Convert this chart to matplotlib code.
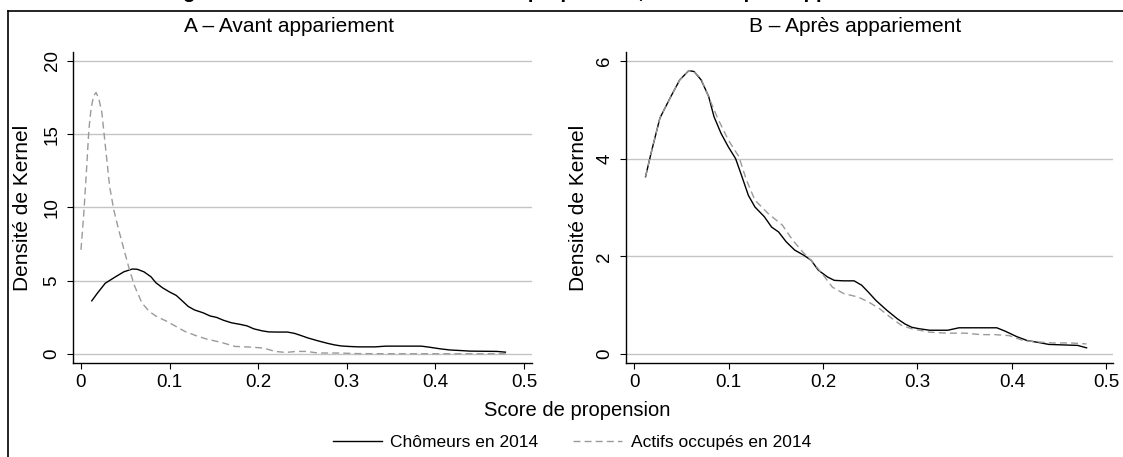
import matplotlib
matplotlib.use("Agg")
import matplotlib.pyplot as plt
from matplotlib.lines import Line2D

plt.rcParams['font.family'] = ['Liberation Sans', 'DejaVu Sans']

# Chômeurs en 2014 (same in both panels)
x_chom = [0.0122, 0.018, 0.0274, 0.039, 0.0484, 0.058, 0.0636, 0.071, 0.079, 0.0846,
          0.092, 0.0998, 0.1075, 0.113, 0.121, 0.128, 0.138, 0.1456, 0.153, 0.161,
          0.170, 0.180, 0.1875, 0.195, 0.2047, 0.212, 0.222, 0.233, 0.241, 0.248,
          0.256, 0.2675, 0.279, 0.2866, 0.294, 0.302, 0.313, 0.332, 0.344, 0.359,
          0.384, 0.393, 0.405, 0.416, 0.431, 0.439, 0.454, 0.4695, 0.479]
y_chom = [3.63, 4.11, 4.83, 5.27, 5.61, 5.80, 5.78, 5.61, 5.27, 4.86,
          4.52, 4.24, 4.00, 3.70, 3.25, 3.01, 2.81, 2.60, 2.50, 2.30,
          2.13, 2.02, 1.92, 1.72, 1.58, 1.51, 1.50, 1.50, 1.41, 1.27,
          1.10, 0.90, 0.72, 0.62, 0.55, 0.52, 0.49, 0.49, 0.54, 0.54,
          0.54, 0.47, 0.36, 0.28, 0.23, 0.20, 0.19, 0.18, 0.13]

# Actifs occupés en 2014, avant appariement
x_act_avant = [0.0, 0.0032, 0.006, 0.0089, 0.0113, 0.0142, 0.017, 0.020, 0.0235, 0.0275,
               0.0324, 0.037, 0.0425, 0.0486, 0.0547, 0.0607, 0.0688, 0.077, 0.085, 0.097,
               0.107, 0.117, 0.13, 0.142, 0.158, 0.174, 0.19, 0.206, 0.219, 0.231,
               0.243, 0.255, 0.267, 0.291, 0.312, 0.352, 0.393, 0.433, 0.482]
y_act_avant = [7.11, 9.6, 12.3, 15.3, 16.7, 17.6, 17.84, 17.45, 16.5, 14.2,
               11.4, 9.84, 8.48, 7.11, 5.75, 4.61, 3.48, 2.91, 2.57, 2.23,
               1.89, 1.55, 1.25, 1.02, 0.80, 0.52, 0.48, 0.41, 0.18, 0.11,
               0.18, 0.18, 0.07, 0.07, 0.03, 0.02, 0.02, 0.02, 0.02]

# Actifs occupés en 2014, après appariement
x_act_apres = [0.0122, 0.018, 0.0274, 0.039, 0.0484, 0.058, 0.0636, 0.071, 0.081, 0.0884,
               0.0998, 0.111, 0.119, 0.128, 0.1418, 0.157, 0.168, 0.18, 0.1875, 0.199,
               0.210, 0.222, 0.237, 0.248, 0.26, 0.271, 0.283, 0.294, 0.313, 0.332,
               0.351, 0.367, 0.382, 0.397, 0.412, 0.428, 0.443, 0.462, 0.479]
y_act_apres = [3.63, 4.11, 4.83, 5.27, 5.61, 5.80, 5.78, 5.63, 5.17, 4.83,
               4.38, 4.04, 3.56, 3.15, 2.88, 2.64, 2.33, 2.06, 1.92, 1.65,
               1.37, 1.24, 1.17, 1.07, 0.93, 0.76, 0.59, 0.52, 0.45, 0.43,
               0.43, 0.40, 0.40, 0.38, 0.28, 0.25, 0.23, 0.23, 0.21]

xticks = [0, 0.1, 0.2, 0.3, 0.4, 0.5]
xtick_labels = ['0', '0.1', '0.2', '0.3', '0.4', '0.5']
yticks_a = [0, 5, 10, 15, 20]
yticks_b = [0, 2, 4, 6]

title_main = "Figure 1 – Distribution des scores de propension, avant et après appariement"
title_a = "A – Avant appariement"
title_b = "B – Après appariement"
xlabel = "Score de propension"
ylabel = "Densité de Kernel"
legend_labels = ["Chômeurs en 2014", "Actifs occupés en 2014"]

W, H = 1123, 457
fig = plt.figure(figsize=(W / 100, H / 100), dpi=100)
fig.patch.set_facecolor('white')

def px_axes(x0, y0, x1, y1):
    return fig.add_axes([x0 / W, 1 - y1 / H, (x1 - x0) / W, (y1 - y0) / H])

boxes = {'A': (73, 532), 'B': (626, 1113)}
axA = px_axes(73, 52, 532, 363)
axB = px_axes(626, 52, 1113, 363)

solid_kw = dict(color='black', lw=1.0, solid_joinstyle='round')
dash_kw = dict(color='#9a9a9a', lw=1.0, linestyle=(0, (5, 3)))

axA.plot(x_chom, y_chom, **solid_kw)
axA.plot(x_act_avant, y_act_avant, **dash_kw)
axB.plot(x_chom, y_chom, **solid_kw)
axB.plot(x_act_apres, y_act_apres, **dash_kw)

axA.set_xlim(-0.009, 0.509)
axA.set_ylim(-0.61, 20.6)
axB.set_xlim(-0.0085, 0.507)
axB.set_ylim(-0.18, 6.18)

for key, ax, yt, yl_x in (('A', axA, yticks_a, 23), ('B', axB, yticks_b, 579)):
    x0, x1 = boxes[key]
    ax.set_xticks(xticks)
    ax.set_xticklabels(xtick_labels)
    ax.set_yticks(yt)
    ax.set_yticklabels([str(v) for v in yt], rotation=90, va='center')
    ax.grid(axis='y', color='#c4c4c4', lw=1.0)
    ax.grid(axis='x', visible=False)
    ax.set_axisbelow(True)
    for s in ('top', 'right'):
        ax.spines[s].set_visible(False)
    for s in ('left', 'bottom'):
        ax.spines[s].set_linewidth(1.0)
        ax.spines[s].set_color('black')
    ax.tick_params(direction='out', length=4, width=0.8, labelsize=13.5)
    ax.tick_params(axis='y', pad=5)
    ax.tick_params(axis='x', pad=4)
    ax.set_ylabel(ylabel, fontsize=15)
    ax.yaxis.label.set_va('center')
    ax.yaxis.set_label_coords((yl_x - x0) / (x1 - x0), 0.5)

fig.text(289 / W, 1 - 27 / H, title_a, ha='center', va='center', fontsize=15)
fig.text(855 / W, 1 - 27 / H, title_b, ha='center', va='center', fontsize=15)
fig.text(577 / W, 1 - 411 / H, xlabel, ha='center', va='center', fontsize=14.5)
fig.text(165 / W, 1 + 1.5 / H, title_main, ha='left', va='baseline', fontsize=14.7, fontweight='bold')

handles = [Line2D([], [], **solid_kw), Line2D([], [], **dash_kw)]
fig.legend(handles, legend_labels, loc='center', bbox_to_anchor=(572 / W, 1 - 442 / H),
           ncol=2, frameon=False, fontsize=12.5, handlelength=2.8, handletextpad=0.5,
           columnspacing=2.0)

# outer frame (top and left edges visible)
fig.add_artist(Line2D([8 / W, 1], [1 - 11 / H, 1 - 11 / H], color='black', lw=1.2, transform=fig.transFigure))
fig.add_artist(Line2D([8 / W, 8 / W], [1 - 11 / H, 0], color='black', lw=1.2, transform=fig.transFigure))

fig.savefig('out.png', dpi=100, facecolor='white')
